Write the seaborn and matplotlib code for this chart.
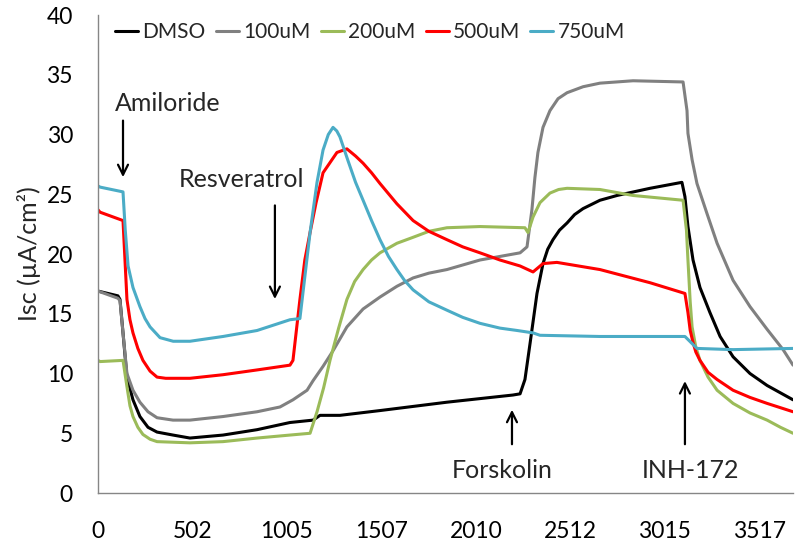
import pandas as pd
import matplotlib
matplotlib.use('Agg')
import matplotlib.pyplot as plt
import seaborn as sns

# Isc traces (time index, µA/cm²)
dmso_t = [0, 106, 117, 133, 154, 186, 223, 266, 314, 399, 489, 665, 846, 1021, 1144, 1181,
          1287, 1500, 1856, 2207, 2245, 2271, 2298, 2335, 2367, 2392, 2420, 2455, 2495, 2535,
          2580, 2670, 2761, 2936, 3106, 3122, 3138, 3165, 3202, 3255, 3309, 3378, 3468, 3559, 3697]
dmso_y = [16.9, 16.5, 16.2, 13.4, 9.7, 7.8, 6.4, 5.5, 5.1, 4.85, 4.6, 4.85, 5.3, 5.9, 6.1, 6.5,
          6.5, 6.9, 7.6, 8.2, 8.3, 9.5, 12.5, 16.7, 19.2, 20.4, 21.2, 22.0, 22.6, 23.3,
          23.8, 24.5, 24.9, 25.5, 26.0, 24.8, 22.3, 19.5, 17.2, 15.1, 13.1, 11.4, 10.0, 9.0, 7.8]

u100_t = [0, 106, 117, 133, 154, 186, 223, 266, 314, 399, 489, 665, 846, 968, 1037, 1112,
          1144, 1197, 1250, 1287, 1324, 1410, 1500, 1590, 1676, 1760, 1856, 2032, 2245, 2282,
          2308, 2324, 2340, 2367, 2404, 2447, 2495, 2580, 2670, 2846, 3112, 3133, 3138, 3160,
          3186, 3239, 3293, 3378, 3468, 3559, 3644, 3697]
u100_y = [16.9, 16.3, 16.1, 13.4, 10.0, 8.6, 7.6, 6.8, 6.3, 6.1, 6.1, 6.4, 6.8, 7.2, 7.8, 8.6,
          9.4, 10.6, 11.9, 12.9, 13.9, 15.4, 16.4, 17.3, 18.0, 18.4, 18.7, 19.5, 20.1, 20.6,
          23.7, 26.4, 28.5, 30.6, 32.0, 33.0, 33.5, 34.0, 34.3, 34.5, 34.4, 32.0, 30.1, 27.9,
          25.9, 23.4, 20.9, 17.8, 15.6, 13.7, 12.0, 10.7]

u200_t = [0, 11, 133, 154, 170, 186, 212, 239, 277, 314, 489, 665, 846, 1021, 1128, 1165,
          1200, 1234, 1280, 1324, 1365, 1410, 1455, 1500, 1590, 1676, 1760, 1856, 2032, 2271,
          2287, 2314, 2351, 2404, 2450, 2495, 2670, 2846, 3112, 3130, 3138, 3150, 3160, 3180,
          3202, 3245, 3293, 3378, 3468, 3559, 3630, 3697]
u200_y = [11.1, 11.0, 11.1, 8.9, 7.3, 6.4, 5.5, 4.9, 4.5, 4.3, 4.2, 4.3, 4.6, 4.85, 5.0, 6.8,
          8.8, 11.1, 13.8, 16.2, 17.7, 18.7, 19.5, 20.1, 20.9, 21.4, 21.9, 22.2, 22.3, 22.2,
          21.8, 23.1, 24.3, 25.1, 25.4, 25.5, 25.4, 24.9, 24.5, 22.0, 19.5, 16.0, 13.9, 12.2,
          11.1, 9.7, 8.6, 7.5, 6.7, 6.1, 5.5, 5.0]

u500_t = [0, 11, 133, 154, 170, 186, 212, 239, 277, 314, 360, 489, 665, 846, 1021, 1037,
          1074, 1100, 1128, 1160, 1197, 1271, 1324, 1370, 1410, 1455, 1500, 1590, 1676, 1760,
          1856, 1940, 2032, 2138, 2245, 2314, 2367, 2441, 2670, 2936, 3122, 3138, 3150, 3165,
          3180, 3202, 3245, 3293, 3378, 3468, 3559, 3697]
u500_y = [23.7, 23.5, 22.8, 16.2, 14.5, 13.4, 12.1, 11.1, 10.2, 9.7, 9.6, 9.6, 9.9, 10.3, 10.7, 11.1,
          16.2, 19.5, 21.8, 24.3, 26.8, 28.5, 28.8, 28.2, 27.6, 26.8, 25.9, 24.2, 22.8, 21.9,
          21.2, 20.6, 20.1, 19.5, 19.0, 18.5, 19.2, 19.3, 18.7, 17.6, 16.7, 15.1, 13.6, 12.6,
          11.8, 11.1, 10.1, 9.5, 8.6, 8.0, 7.5, 6.8]

u750_t = [0, 11, 133, 145, 160, 186, 223, 250, 277, 330, 400, 489, 665, 846, 1021, 1074,
          1128, 1165, 1197, 1225, 1250, 1270, 1287, 1330, 1370, 1410, 1455, 1500, 1545, 1590,
          1630, 1676, 1760, 1856, 1940, 2032, 2138, 2230, 2314, 2351, 2670, 3122, 3186, 3378, 3697]
u750_y = [25.7, 25.6, 25.2, 22.0, 19.0, 17.2, 15.6, 14.6, 13.9, 13.0, 12.7, 12.7, 13.1, 13.6, 14.5, 14.6,
          21.8, 26.0, 28.7, 30.0, 30.6, 30.3, 29.8, 27.8, 26.0, 24.5, 22.8, 21.2, 19.8, 18.7,
          17.8, 17.0, 16.0, 15.3, 14.7, 14.2, 13.8, 13.6, 13.4, 13.2, 13.1, 13.1, 12.1, 12.0, 12.1]

groups = ['DMSO', '100uM', '200uM', '500uM', '750uM']
colors = ['#000000', '#808080', '#9BBB59', '#FF0000', '#4BACC6']
tick_pos = [0, 502, 1005, 1507, 2010, 2512, 3015, 3517]

frames = []
for name, t, y in zip(groups, [dmso_t, u100_t, u200_t, u500_t, u750_t],
                      [dmso_y, u100_y, u200_y, u500_y, u750_y]):
    frames.append(pd.DataFrame({'t': t, 'isc': y, 'group': name}))
df = pd.concat(frames, ignore_index=True)

sns.set_style('white')
plt.rcParams['font.family'] = ['Lato', 'DejaVu Sans']

fig = plt.figure(figsize=(8, 5.41), dpi=100)
ax = fig.add_axes([0.1225, 0.0887, 0.8688, 0.8835])

sns.lineplot(data=df, x='t', y='isc', hue='group', hue_order=groups,
             palette=dict(zip(groups, colors)), estimator=None, linewidth=2.2, ax=ax)

ax.set_xlim(0, 3697)
ax.set_ylim(0, 40)
ax.set_xticks(tick_pos)
ax.set_xticklabels([str(p) for p in tick_pos])
ax.set_yticks(range(0, 41, 5))
ax.set_xlabel('')
ax.set_ylabel('Isc (µA/cm²)', fontsize=18, labelpad=4)

for side in ['top', 'right']:
    ax.spines[side].set_visible(False)
for side in ['left', 'bottom']:
    ax.spines[side].set_color('#868686')
    ax.spines[side].set_linewidth(1.0)
ax.tick_params(axis='both', direction='out', length=7, width=1.0, color='#868686',
               labelsize=16.5, labelcolor='black')
ax.tick_params(axis='x', pad=13)
ax.tick_params(axis='y', pad=11)

handles, labels = ax.get_legend_handles_labels()
ax.legend(handles, labels, loc='center left', bbox_to_anchor=(0.025, 0.964), ncol=5,
          frameon=False, fontsize=15, handlelength=1.1, handletextpad=0.2,
          columnspacing=0.5, borderpad=0, borderaxespad=0)

# treatment markers
arrow = dict(arrowstyle='->', color='black', lw=1.6, mutation_scale=18)
ax.annotate('', xy=(133, 26.2), xytext=(133, 31.4), arrowprops=arrow)
ax.text(372, 32.6, 'Amiloride', fontsize=18, ha='center', va='center')
ax.annotate('', xy=(941, 16.0), xytext=(941, 24.3), arrowprops=arrow)
ax.text(761, 26.2, 'Resveratrol', fontsize=18, ha='center', va='center')
ax.annotate('', xy=(2202, 7.2), xytext=(2202, 3.85), arrowprops=arrow)
ax.text(2149, 1.9, 'Forskolin', fontsize=18, ha='center', va='center')
ax.annotate('', xy=(3122, 9.6), xytext=(3122, 3.85), arrowprops=arrow)
ax.text(3149, 1.9, 'INH-172', fontsize=18, ha='center', va='center')

fig.savefig('out.png', dpi=100)
